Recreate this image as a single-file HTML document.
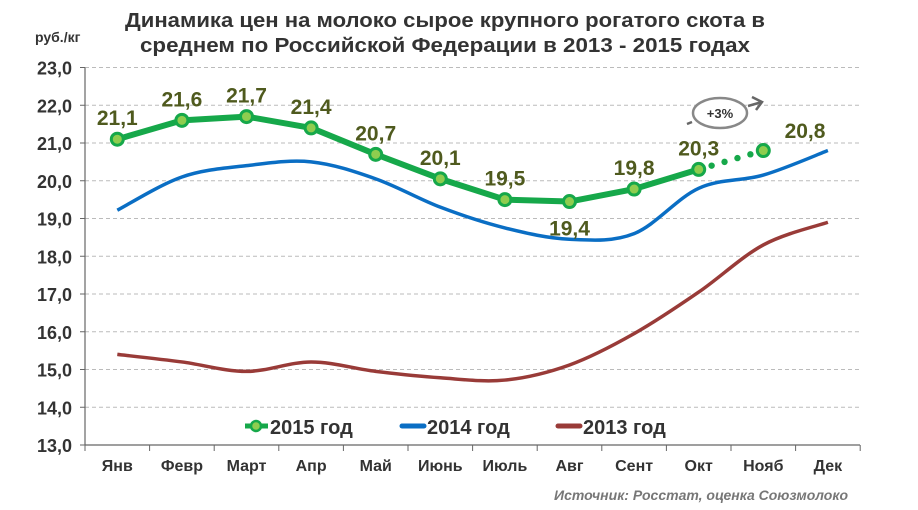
<!DOCTYPE html>
<html><head><meta charset="utf-8"><style>
body{margin:0;background:#fff;}
svg{display:block;font-family:"Liberation Sans",sans-serif;}
</style></head><body>
<svg id="s" width="918" height="510" xmlns="http://www.w3.org/2000/svg">
<text x="445" y="27" text-anchor="middle" font-size="20" font-weight="bold" fill="#333" textLength="640" lengthAdjust="spacingAndGlyphs">Динамика цен на молоко сырое крупного рогатого скота в</text>
<text x="445" y="52" text-anchor="middle" font-size="20" font-weight="bold" fill="#333" textLength="610" lengthAdjust="spacingAndGlyphs">среднем по Российской Федерации в 2013 - 2015 годах</text>
<text x="35" y="42" font-size="14" font-weight="bold" fill="#333">руб./кг</text>
<g id="g"></g>
<text x="848" y="500" text-anchor="end" font-size="14" font-weight="bold" font-style="italic" fill="#777">Источник: Росстат, оценка Союзмолоко</text>
</svg>
<script>
const g=document.getElementById('g');let h='';
const Y=v=>445-(v-13)*37.75, X=i=>117.3+i*64.6;
for(let v=13;v<=23;v++){const y=Y(v);
 if(v>13)h+=`<line x1="85" x2="860" y1="${y}" y2="${y}" stroke="#bbb" stroke-dasharray="4,3"/>`;
 h+=`<line x1="80" x2="85" y1="${y}" y2="${y}" stroke="#666"/>`;
 h+=`<text x="72" y="${y+7}" text-anchor="end" font-size="18" font-weight="bold" fill="#333">${v},0</text>`;}
h+=`<line x1="85" x2="85" y1="${Y(23)}" y2="${Y(13)}" stroke="#666" stroke-width="1.2"/>`;
h+=`<line x1="85" x2="860" y1="445" y2="445" stroke="#666" stroke-width="1.2"/>`;
const m=['Янв','Февр','Март','Апр','Май','Июнь','Июль','Авг','Сент','Окт','Нояб','Дек'];
for(let i=0;i<=12;i++){const x=85+i*64.6;h+=`<line x1="${x}" x2="${x}" y1="445" y2="451" stroke="#666"/>`;}
m.forEach((t,i)=>h+=`<text x="${X(i)}" y="471" text-anchor="middle" font-size="16" font-weight="bold" fill="#333">${t}</text>`);
function sp(vals){const p=vals.map((v,i)=>[X(i),Y(v)]);let d=`M${p[0]}`;
 for(let i=0;i<p.length-1;i++){const p0=p[i-1]||p[i],p1=p[i],p2=p[i+1],p3=p[i+2]||p2,t=1/6;
 d+=` C${p1[0]+(p2[0]-p0[0])*t},${p1[1]+(p2[1]-p0[1])*t} ${p2[0]-(p3[0]-p1[0])*t},${p2[1]-(p3[1]-p1[1])*t} ${p2[0]},${p2[1]}`;}return d;}
h+=`<path d="${sp([15.4,15.2,14.95,15.2,14.95,14.78,14.72,15.12,15.95,17.05,18.3,18.9])}" fill="none" stroke="#993b38" stroke-width="3.5"/>`;
h+=`<path d="${sp([19.22,20.1,20.4,20.5,20.05,19.3,18.75,18.45,18.6,19.8,20.15,20.8])}" fill="none" stroke="#0a6ec4" stroke-width="3.5"/>`;
const gr=[21.1,21.6,21.7,21.4,20.7,20.05,19.5,19.45,19.78,20.3];
h+=`<polyline points="${gr.map((v,i)=>X(i)+','+Y(v)).join(' ')}" fill="none" stroke="#16a84a" stroke-width="6" stroke-linejoin="round"/>`;
for(let k=1;k<=4;k++){const t=k/5;h+=`<circle cx="${X(9)+t*64.6}" cy="${Y(20.3+0.5*t)}" r="3.2" fill="#16a84a"/>`;}
gr.concat([20.8]).forEach((v,i)=>h+=`<circle cx="${X(i)}" cy="${Y(v)}" r="6" fill="#8fcd4f" stroke="#16a84a" stroke-width="3"/>`);
const lab=['21,1','21,6','21,7','21,4','20,7','20,1','19,5','19,4','19,8','20,3'];
lab.forEach((t,i)=>{let y=Y(gr[i])-14;if(i==7)y=Y(gr[i])+34;
 h+=`<text x="${X(i)}" y="${y}" text-anchor="middle" font-size="21" font-weight="bold" fill="#4f5a1e">${t}</text>`;});
h+=`<text x="805" y="138" font-size="21" font-weight="bold" fill="#4f5a1e" text-anchor="middle">20,8</text>`;
h+=`<ellipse cx="720" cy="113" rx="27" ry="15" fill="#fff" stroke="#888" stroke-width="2.5"/>`;
h+=`<text x="720" y="118" text-anchor="middle" font-size="13" font-weight="bold" fill="#333">+3%</text>`;
h+=`<line x1="687" y1="124" x2="692" y2="122" stroke="#666" stroke-width="2.5"/><line x1="748" y1="106" x2="762" y2="102" stroke="#666" stroke-width="2.5"/><polyline points="752,97 762,102 756,110" fill="none" stroke="#666" stroke-width="2.5"/>`;
h+=`<line x1="245" x2="268" y1="426" y2="426" stroke="#16a84a" stroke-width="5"/><circle cx="256" cy="426" r="5" fill="#8fcd4f" stroke="#16a84a" stroke-width="2.5"/>`;
h+=`<text x="270" y="434" font-size="20" font-weight="bold" fill="#333">2015 год</text>`;
h+=`<line x1="402" x2="424" y1="426" y2="426" stroke="#0a6ec4" stroke-width="5" stroke-linecap="round"/><text x="427" y="434" font-size="20" font-weight="bold" fill="#333">2014 год</text>`;
h+=`<line x1="558" x2="580" y1="426" y2="426" stroke="#993b38" stroke-width="5" stroke-linecap="round"/><text x="583" y="434" font-size="20" font-weight="bold" fill="#333">2013 год</text>`;
g.innerHTML=h;
</script>
</body></html>
